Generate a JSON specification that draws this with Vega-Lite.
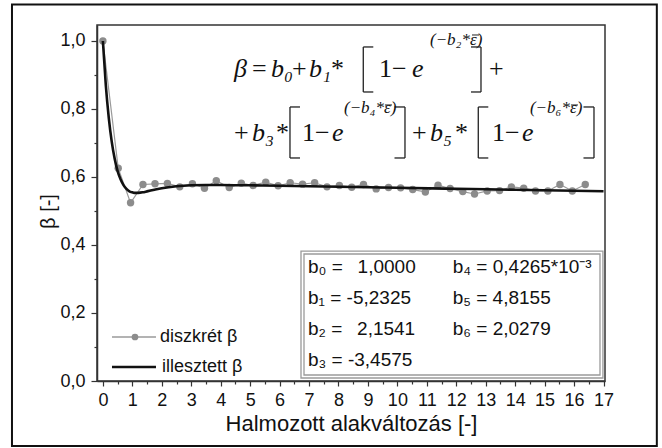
{
  "$schema": "https://vega.github.io/schema/vega-lite/v6.json",
  "width": 508,
  "height": 356,
  "autosize": {"type": "none"},
  "padding": {"left": 97, "top": 25, "right": 57, "bottom": 67},
  "background": "white",
  "config": {
    "font": "Liberation Sans",
    "view": {"stroke": "#333333", "strokeWidth": 1.5},
    "axis": {"domainColor": "#333333", "domainWidth": 1.5, "tickColor": "#333333", "tickWidth": 1.2, "labelColor": "#111111", "titleColor": "#111111", "labelFont": "Liberation Sans", "titleFont": "Liberation Sans", "titleFontWeight": "normal", "grid": false}
  },
  "datasets": {
    "disc": [
      {"x": 0, "y": 1.0}, {"x": 0.52, "y": 0.626}, {"x": 0.94, "y": 0.524}, {"x": 1.36, "y": 0.578},
      {"x": 1.77, "y": 0.58}, {"x": 2.19, "y": 0.581}, {"x": 2.61, "y": 0.571}, {"x": 3.04, "y": 0.58},
      {"x": 3.45, "y": 0.567}, {"x": 3.85, "y": 0.589}, {"x": 4.29, "y": 0.569}, {"x": 4.7, "y": 0.582},
      {"x": 5.1, "y": 0.575}, {"x": 5.53, "y": 0.585}, {"x": 5.95, "y": 0.574}, {"x": 6.36, "y": 0.583},
      {"x": 6.78, "y": 0.579}, {"x": 7.19, "y": 0.583}, {"x": 7.61, "y": 0.571}, {"x": 8.03, "y": 0.575},
      {"x": 8.45, "y": 0.57}, {"x": 8.85, "y": 0.578}, {"x": 9.28, "y": 0.565}, {"x": 9.7, "y": 0.569},
      {"x": 10.11, "y": 0.568}, {"x": 10.52, "y": 0.563}, {"x": 10.95, "y": 0.556}, {"x": 11.38, "y": 0.576},
      {"x": 11.79, "y": 0.566}, {"x": 12.22, "y": 0.557}, {"x": 12.62, "y": 0.55}, {"x": 13.05, "y": 0.559},
      {"x": 13.47, "y": 0.56}, {"x": 13.87, "y": 0.571}, {"x": 14.29, "y": 0.567}, {"x": 14.69, "y": 0.559},
      {"x": 15.11, "y": 0.559}, {"x": 15.52, "y": 0.578}, {"x": 15.94, "y": 0.559}, {"x": 16.38, "y": 0.578}
    ],
    "fit": [
      {"x": 0, "y": 1.0}, {"x": 0.1, "y": 0.869}, {"x": 0.2, "y": 0.774}, {"x": 0.3, "y": 0.704},
      {"x": 0.4, "y": 0.654}, {"x": 0.5, "y": 0.617}, {"x": 0.6, "y": 0.593}, {"x": 0.7, "y": 0.576},
      {"x": 0.8, "y": 0.565}, {"x": 0.9, "y": 0.558}, {"x": 1.0, "y": 0.555}, {"x": 1.1, "y": 0.5533},
      {"x": 1.2, "y": 0.5534}, {"x": 1.35, "y": 0.5549}, {"x": 1.5, "y": 0.5577}, {"x": 1.75, "y": 0.5626},
      {"x": 2.0, "y": 0.5671}, {"x": 2.5, "y": 0.573}, {"x": 3.0, "y": 0.5758}, {"x": 3.5, "y": 0.5766},
      {"x": 4.0, "y": 0.5766}, {"x": 5.0, "y": 0.5755}, {"x": 6.0, "y": 0.5742}, {"x": 8.0, "y": 0.5712},
      {"x": 10.0, "y": 0.5683}, {"x": 12.0, "y": 0.5653}, {"x": 14.0, "y": 0.5624}, {"x": 16.0, "y": 0.5594},
      {"x": 17.0, "y": 0.5579}
    ],
    "boxes": [
      {"x": 6.727, "x2": 16.98, "y": 0.382, "y2": 0.0088, "k": "box"},
      {"x": 6.829, "x2": 16.88, "y": 0.3735, "y2": 0.0176, "k": "box"},
      {"x": -3.087, "x2": 18.81, "y": 1.107, "y2": -0.191, "k": "frame"}
    ],
    "brk": [
      {"x": 8.842, "x2": 8.842, "y": 0.9824, "y2": 0.85},
      {"x": 8.842, "x2": 9.182, "y": 0.9824, "y2": 0.9824},
      {"x": 8.842, "x2": 9.182, "y": 0.85, "y2": 0.85},
      {"x": 12.839, "x2": 12.839, "y": 0.9824, "y2": 0.85},
      {"x": 12.499, "x2": 12.839, "y": 0.9824, "y2": 0.9824},
      {"x": 12.499, "x2": 12.839, "y": 0.85, "y2": 0.85},
      {"x": 6.353, "x2": 6.353, "y": 0.8059, "y2": 0.6559},
      {"x": 6.353, "x2": 6.693, "y": 0.8059, "y2": 0.8059},
      {"x": 6.353, "x2": 6.693, "y": 0.6559, "y2": 0.6559},
      {"x": 10.258, "x2": 10.258, "y": 0.8059, "y2": 0.6559},
      {"x": 9.902, "x2": 10.258, "y": 0.8059, "y2": 0.8059},
      {"x": 9.902, "x2": 10.258, "y": 0.6559, "y2": 0.6559},
      {"x": 12.747, "x2": 12.747, "y": 0.8059, "y2": 0.6559},
      {"x": 12.747, "x2": 13.087, "y": 0.8059, "y2": 0.8059},
      {"x": 12.747, "x2": 13.087, "y": 0.6559, "y2": 0.6559},
      {"x": 16.676, "x2": 16.676, "y": 0.8059, "y2": 0.6559},
      {"x": 16.319, "x2": 16.676, "y": 0.8059, "y2": 0.8059},
      {"x": 16.319, "x2": 16.676, "y": 0.6559, "y2": 0.6559}
    ],
    "macron": [
      {"x": 12.534, "x2": 12.772, "y": 1.0176},
      {"x": 9.579, "x2": 9.817, "y": 0.8118},
      {"x": 15.895, "x2": 16.132, "y": 0.8118}
    ],
    "legrules": [
      {"x": 0.309, "x2": 1.803, "y": 0.1294, "k": "d"},
      {"x": 0.309, "x2": 1.803, "y": 0.0412, "k": "f"}
    ],
    "legpt": [{"x": 1.09, "y": 0.1294}],
    "ann": [
      {"x": 4.452, "y": 0.8941, "t": "β", "s": "it"},
      {"x": 5.063, "y": 0.8941, "t": "=", "s": "up"},
      {"x": 5.708, "y": 0.8941, "t": "b₀", "s": "it"},
      {"x": 6.421, "y": 0.8941, "t": "+", "s": "up"},
      {"x": 6.998, "y": 0.8941, "t": "b₁", "s": "it"},
      {"x": 7.745, "y": 0.8941, "t": "*", "s": "up"},
      {"x": 9.375, "y": 0.8941, "t": "1−", "s": "up"},
      {"x": 10.496, "y": 0.8941, "t": "e", "s": "it"},
      {"x": 11.107, "y": 0.9882, "t": "(−b₂*ε)", "s": "sup"},
      {"x": 13.111, "y": 0.8941, "t": "+", "s": "up"},
      {"x": 4.452, "y": 0.7059, "t": "+", "s": "up"},
      {"x": 5.063, "y": 0.7059, "t": "b₃", "s": "it"},
      {"x": 5.878, "y": 0.7059, "t": "*", "s": "up"},
      {"x": 6.761, "y": 0.7059, "t": "1−", "s": "up"},
      {"x": 7.779, "y": 0.7059, "t": "e", "s": "it"},
      {"x": 8.187, "y": 0.7882, "t": "(−b₄*ε)", "s": "sup"},
      {"x": 10.496, "y": 0.7059, "t": "+", "s": "up"},
      {"x": 11.107, "y": 0.7059, "t": "b₅", "s": "it"},
      {"x": 11.956, "y": 0.7059, "t": "*", "s": "up"},
      {"x": 13.212, "y": 0.7059, "t": "1−", "s": "up"},
      {"x": 14.231, "y": 0.7059, "t": "e", "s": "it"},
      {"x": 14.502, "y": 0.7882, "t": "(−b₆*ε)", "s": "sup"},
      {"x": 6.964, "y": 0.3176, "t": "b₀ =\u2002 1,0000", "s": "box"},
      {"x": 6.964, "y": 0.2265, "t": "b₁ = -5,2325", "s": "box"},
      {"x": 6.964, "y": 0.1353, "t": "b₂ =\u2002 2,1541", "s": "box"},
      {"x": 6.964, "y": 0.0441, "t": "b₃ = -3,4575", "s": "box"},
      {"x": 11.88, "y": 0.3176, "t": "b₄ = 0,4265*10⁻³", "s": "box"},
      {"x": 11.88, "y": 0.2265, "t": "b₅ = 4,8155", "s": "box"},
      {"x": 11.88, "y": 0.1353, "t": "b₆ = 2,0279", "s": "box"},
      {"x": 1.939, "y": 0.1294, "t": "diszkrét β", "s": "leg"},
      {"x": 2.007, "y": 0.0412, "t": "illesztett β", "s": "leg"}
    ]
  },
  "encoding": {
    "x": {
      "field": "x", "type": "quantitative",
      "scale": {"domain": [-0.2, 17.05], "nice": false, "zero": false},
      "axis": {
        "title": "Halmozott alakváltozás [-]",
        "titleFontSize": 22, "titlePadding": 4,
        "values": [0,0.5,1,1.5,2,2.5,3,3.5,4,4.5,5,5.5,6,6.5,7,7.5,8,8.5,9,9.5,10,10.5,11,11.5,12,12.5,13,13.5,14,14.5,15,15.5,16,16.5,17],
        "labelExpr": "datum.value % 1 == 0 ? format(datum.value, 'd') : ''",
        "labelFontSize": 18, "labelPadding": 5, "labelOverlap": false,
        "tickSize": {"condition": {"test": "datum.value % 1 != 0", "value": 3}, "value": 5}
      }
    },
    "y": {
      "field": "y", "type": "quantitative",
      "scale": {"domain": [0, 1.047], "nice": false, "zero": false},
      "axis": {
        "title": "β [-]",
        "titleFontSize": 20, "titleX": -49, "titleY": 186, "titleAngle": 270,
        "titleAlign": "center", "titleBaseline": "middle",
        "values": [0,0.1,0.2,0.3,0.4,0.5,0.6,0.7,0.8,0.9,1.0],
        "labelExpr": "round(datum.value*10) % 2 == 0 ? replace(format(datum.value, '.1f'), '.', ',') : ''",
        "labelFontSize": 18, "labelPadding": 6, "labelOverlap": false,
        "tickSize": {"condition": {"test": "round(datum.value*10) % 2 == 1", "value": 3}, "value": 6}
      }
    }
  },
  "layer": [
    {
      "data": {"name": "boxes"},
      "transform": [{"filter": "datum.k == 'box'"}],
      "mark": {"type": "rect", "fill": null, "stroke": "#9a9a9a", "strokeWidth": 1.3},
      "encoding": {"x2": {"field": "x2"}, "y2": {"field": "y2"}}
    },
    {
      "data": {"name": "boxes"},
      "transform": [{"filter": "datum.k == 'frame'"}],
      "mark": {"type": "rect", "fill": null, "stroke": "#111111", "strokeWidth": 2},
      "encoding": {"x2": {"field": "x2"}, "y2": {"field": "y2"}}
    },
    {
      "data": {"name": "brk"},
      "mark": {"type": "rule", "stroke": "#222222", "strokeWidth": 1.3},
      "encoding": {"x2": {"field": "x2"}, "y2": {"field": "y2"}}
    },
    {
      "data": {"name": "macron"},
      "mark": {"type": "rule", "stroke": "#222222", "strokeWidth": 1},
      "encoding": {"x2": {"field": "x2"}}
    },
    {
      "data": {"name": "disc"},
      "mark": {"type": "line", "stroke": "#9a9a9a", "strokeWidth": 1.2},
      "encoding": {}
    },
    {
      "data": {"name": "disc"},
      "mark": {"type": "circle", "fill": "#8c8c8c", "opacity": 1, "size": 55},
      "encoding": {}
    },
    {
      "data": {"name": "fit"},
      "mark": {"type": "line", "stroke": "#111111", "strokeWidth": 2.6, "interpolate": "monotone"},
      "encoding": {}
    },
    {
      "data": {"name": "legrules"},
      "transform": [{"filter": "datum.k == 'd'"}],
      "mark": {"type": "rule", "stroke": "#9a9a9a", "strokeWidth": 1.5},
      "encoding": {"x2": {"field": "x2"}}
    },
    {
      "data": {"name": "legrules"},
      "transform": [{"filter": "datum.k == 'f'"}],
      "mark": {"type": "rule", "stroke": "#111111", "strokeWidth": 2.6},
      "encoding": {"x2": {"field": "x2"}}
    },
    {
      "data": {"name": "legpt"},
      "mark": {"type": "circle", "fill": "#8c8c8c", "opacity": 1, "size": 45},
      "encoding": {}
    },
    {
      "data": {"name": "ann"},
      "transform": [{"filter": "datum.s == 'it'"}],
      "mark": {"type": "text", "font": "Liberation Serif", "fontStyle": "italic", "fontSize": 26, "align": "left", "baseline": "alphabetic", "color": "#111111"},
      "encoding": {"text": {"field": "t"}}
    },
    {
      "data": {"name": "ann"},
      "transform": [{"filter": "datum.s == 'up'"}],
      "mark": {"type": "text", "font": "Liberation Serif", "fontSize": 26, "align": "left", "baseline": "alphabetic", "color": "#111111"},
      "encoding": {"text": {"field": "t"}}
    },
    {
      "data": {"name": "ann"},
      "transform": [{"filter": "datum.s == 'sup'"}],
      "mark": {"type": "text", "font": "Liberation Serif", "fontStyle": "italic", "fontSize": 17, "align": "left", "baseline": "alphabetic", "color": "#111111"},
      "encoding": {"text": {"field": "t"}}
    },
    {
      "data": {"name": "ann"},
      "transform": [{"filter": "datum.s == 'box'"}],
      "mark": {"type": "text", "font": "Liberation Sans", "fontSize": 19, "align": "left", "baseline": "alphabetic", "color": "#111111"},
      "encoding": {"text": {"field": "t"}}
    },
    {
      "data": {"name": "ann"},
      "transform": [{"filter": "datum.s == 'leg'"}],
      "mark": {"type": "text", "font": "Liberation Sans", "fontSize": 18, "align": "left", "baseline": "middle", "color": "#111111"},
      "encoding": {"text": {"field": "t"}}
    }
  ]
}
